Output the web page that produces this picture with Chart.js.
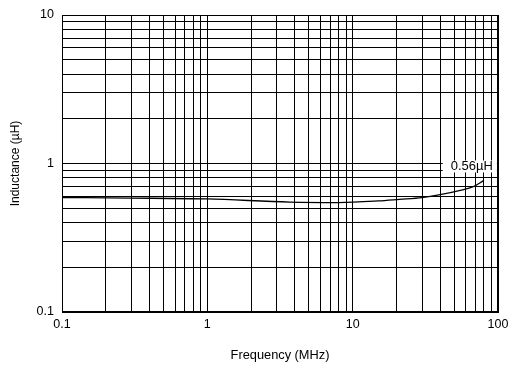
<!DOCTYPE html>
<html>
<head>
<meta charset="utf-8">
<script src="https://cdn.jsdelivr.net/npm/chart.js@4/dist/chart.umd.min.js"></script>
<style>
html,body{margin:0;padding:0;background:#fff;}
#wrap{width:508px;height:365px;position:relative;}
</style>
</head>
<body>
<div id="wrap"><canvas id="c" width="508" height="365"></canvas></div>
<script>
// Data
const freqMHz    = [0.1,  0.3,   1,     3.7,  8,     15,   21,    30,   40,    55,   67,    80];
const inductance = [0.59, 0.585, 0.577, 0.55, 0.546, 0.56, 0.574, 0.59, 0.617, 0.66, 0.695, 0.77];
const xTickLabels = ['0.1', '1', '10', '100'];
const yTickLabels = ['0.1', '1', '10'];
const annotationText = '0.56\u00B5H';
const annotationAt = {x: 66, y: 0.955};

const xDecades = xTickLabels.map(Number);
const yDecades = yTickLabels.map(Number);
function gridValues(decades){
  const v = [];
  for (let i = 0; i < decades.length - 1; i++) {
    for (let m = 1; m <= 9; m++) v.push(+(decades[i] * m).toPrecision(3));
  }
  v.push(decades[decades.length - 1]);
  return v;
}
const xGrid = gridValues(xDecades);
const yGrid = gridValues(yDecades);

const FAM = '"Liberation Sans", Arial, Helvetica, sans-serif';
const TICKFONT = {family: FAM, size: 12.5};

const labelPlugin = {
  id: 'labelPlugin',
  afterDatasetsDraw(chart) {
    const ctx = chart.ctx;
    const px = chart.scales.x.getPixelForValue(annotationAt.x);
    const py = chart.scales.y.getPixelForValue(annotationAt.y);
    ctx.save();
    ctx.font = '13px ' + FAM;
    const w = ctx.measureText(annotationText).width;
    ctx.fillStyle = '#fff';
    ctx.fillRect(px - w/2 - 8, py - 6, w + 12, 12);
    ctx.fillStyle = '#000';
    ctx.textAlign = 'center';
    ctx.textBaseline = 'middle';
    ctx.fillText(annotationText, px, py);
    ctx.restore();
  }
};

new Chart(document.getElementById('c'), {
  type: 'scatter',
  data: {
    datasets: [{
      data: freqMHz.map((f, i) => ({x: f, y: inductance[i]})),
      showLine: true,
      borderColor: '#000',
      borderWidth: 1.3,
      pointRadius: 0,
      cubicInterpolationMode: 'monotone',
      fill: false
    }]
  },
  options: {
    responsive: false,
    animation: false,
    devicePixelRatio: 1,
    layout: {padding: {top: 15, right: 10, left: 0, bottom: 0}},
    plugins: {legend: {display: false}, tooltip: {enabled: false}},
    scales: {
      x: {
        type: 'logarithmic',
        min: 0.1, max: 100,
        afterBuildTicks(s) { s.ticks = xGrid.map(v => ({value: v})); },
        afterFit(s) { s.height = 53; s.paddingRight = 0; s.paddingLeft = 0; },
        grid: {color: '#000', lineWidth: 1, drawTicks: false},
        border: {display: true, color: '#000', width: 1},
        ticks: {
          autoSkip: false, maxRotation: 0, padding: 5, color: '#000', font: TICKFONT,
          callback(v) { const i = xDecades.indexOf(+(+v).toPrecision(3)); return i >= 0 ? xTickLabels[i] : ''; }
        },
        title: {display: true, text: 'Frequency (MHz)', color: '#000', font: {family: FAM, size: 12.8}, padding: {top: 0, bottom: 2}}
      },
      y: {
        type: 'logarithmic',
        min: 0.1, max: 10,
        afterBuildTicks(s) { s.ticks = yGrid.map(v => ({value: v})); },
        afterFit(s) { s.width = 62; s.paddingTop = 0; s.paddingBottom = 0; },
        grid: {color: '#000', lineWidth: 1, drawTicks: false},
        border: {display: true, color: '#000', width: 1},
        ticks: {
          autoSkip: false, padding: 8, color: '#000', font: TICKFONT,
          callback(v) { const i = yDecades.indexOf(+(+v).toPrecision(3)); return i >= 0 ? yTickLabels[i] : ''; }
        },
        title: {display: true, text: 'Inductance (\u00B5H)', color: '#000', font: {family: FAM, size: 12}, padding: {top: 8, bottom: 0}}
      }
    }
  },
  plugins: [labelPlugin, {
    id: 'frame',
    afterDraw(chart) {
      const a = chart.chartArea, ctx = chart.ctx;
      ctx.save(); ctx.strokeStyle = '#000'; ctx.lineWidth = 1;
      ctx.strokeRect(Math.round(a.left) + 0.5, Math.round(a.top) + 0.5, Math.round(a.right - a.left) - 1, Math.round(a.bottom - a.top) - 1);
      ctx.restore();
    }
  }]
});
</script>
</body>
</html>
